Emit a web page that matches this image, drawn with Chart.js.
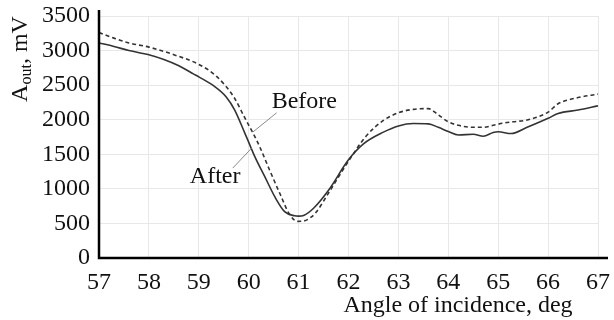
<!DOCTYPE html>
<html>
<head>
<meta charset="utf-8">
<script src="https://cdn.jsdelivr.net/npm/chart.js@4/dist/chart.umd.min.js"></script>
<style>
  html, body { margin: 0; padding: 0; background: #fff; }
  #wrap { width: 614px; height: 320px; }
</style>
</head>
<body>
<div id="wrap"><canvas id="chart" width="614" height="320"></canvas></div>
<script>
// angle of incidence (deg) and output amplitude (mV)
const afterAngle = [57.0, 57.3, 57.6, 58.0, 58.3, 58.6, 58.9, 59.0, 59.3, 59.55, 59.72, 59.92, 60.02, 60.12, 60.32, 60.52, 60.72, 60.92, 61.0, 61.1, 61.3, 61.6, 62.0, 62.3, 62.7, 63.0, 63.3, 63.6, 63.8, 64.0, 64.2, 64.5, 64.7, 64.9, 65.0, 65.26, 65.58, 66.0, 66.2, 66.6, 67.0];
const afterAout  = [3110, 3060, 3000, 2940, 2870, 2780, 2660, 2620, 2490, 2330, 2140, 1810, 1640, 1470, 1180, 890, 670, 610, 605, 615, 720, 980, 1420, 1650, 1820, 1910, 1945, 1940, 1890, 1830, 1780, 1790, 1760, 1815, 1825, 1800, 1890, 2020, 2090, 2140, 2200];

const beforeAngle = [57.0, 57.3, 57.6, 58.0, 58.5, 59.0, 59.35, 59.7, 59.92, 60.12, 60.22, 60.42, 60.62, 60.82, 60.98, 61.1, 61.25, 61.35, 61.6, 62.0, 62.35, 62.7, 63.0, 63.3, 63.6, 63.8, 64.0, 64.2, 64.5, 64.7, 64.9, 65.1, 65.3, 65.6, 66.0, 66.2, 66.6, 67.0];
const beforeAout  = [3260, 3180, 3110, 3050, 2940, 2800, 2630, 2330, 2030, 1760, 1610, 1270, 940, 630, 530, 535, 590, 660, 940, 1400, 1760, 1990, 2100, 2150, 2160, 2070, 1970, 1920, 1890, 1890, 1920, 1950, 1970, 2000, 2110, 2230, 2320, 2370];

const xTicks = [57, 58, 59, 60, 61, 62, 63, 64, 65, 66, 67];
const yTicks = [0, 500, 1000, 1500, 2000, 2500, 3000, 3500];

const FONT = '"Liberation Serif", "Times New Roman", serif';
const INK = '#333333';

const toPoints = (xs, ys) => xs.map((x, i) => ({ x: x, y: ys[i] }));

// labels with leader lines, in data units
const callouts = [
  { text: 'Before', tx: 60.46, ty: 2169, from: [60.08, 1820], to: [60.56, 2100] },
  { text: 'After',  tx: 58.82, ty: 1085, from: [59.68, 1300], to: [60.06, 1590] }
];

const decorations = {
  id: 'decorations',
  afterDraw(chart) {
    const { ctx, chartArea, scales } = chart;
    const x = scales.x, y = scales.y;
    ctx.save();

    // axis lines
    ctx.strokeStyle = '#000';
    ctx.lineWidth = 2.5;
    ctx.beginPath();
    ctx.moveTo(chartArea.left, chartArea.top - 6);
    ctx.lineTo(chartArea.left, chartArea.bottom);
    ctx.lineTo(chartArea.right + 10, chartArea.bottom);
    ctx.stroke();

    // callouts
    ctx.font = '24px ' + FONT;
    ctx.fillStyle = '#111';
    ctx.textBaseline = 'alphabetic';
    callouts.forEach(c => {
      ctx.strokeStyle = '#8a8a8a';
      ctx.lineWidth = 1;
      ctx.beginPath();
      ctx.moveTo(x.getPixelForValue(c.from[0]), y.getPixelForValue(c.from[1]));
      ctx.lineTo(x.getPixelForValue(c.to[0]), y.getPixelForValue(c.to[1]));
      ctx.stroke();
      ctx.fillText(c.text, x.getPixelForValue(c.tx), y.getPixelForValue(c.ty));
    });

    // x axis title
    ctx.textAlign = 'center';
    ctx.fillText('Angle of incidence, deg', 458, 312);

    // y axis title with subscript
    ctx.translate(27, 59);
    ctx.rotate(-Math.PI / 2);
    const big = '24px ' + FONT, small = '16px ' + FONT;
    ctx.font = big; const wA = ctx.measureText('A').width;
    ctx.font = small; const wSub = ctx.measureText('out').width;
    ctx.font = big; const wRest = ctx.measureText(', mV').width;
    let px = -(wA + wSub + wRest) / 2;
    ctx.textAlign = 'left';
    ctx.font = big; ctx.fillText('A', px, 0); px += wA;
    ctx.font = small; ctx.fillText('out', px, 4); px += wSub;
    ctx.font = big; ctx.fillText(', mV', px, 0);

    ctx.restore();
  }
};

new Chart(document.getElementById('chart'), {
  type: 'line',
  data: {
    datasets: [
      {
        label: 'After',
        data: toPoints(afterAngle, afterAout),
        borderColor: INK,
        borderWidth: 1.6,
        pointRadius: 0,
        cubicInterpolationMode: 'monotone',
        fill: false
      },
      {
        label: 'Before',
        data: toPoints(beforeAngle, beforeAout),
        borderColor: INK,
        borderWidth: 1.6,
        borderDash: [4, 3],
        pointRadius: 0,
        cubicInterpolationMode: 'monotone',
        fill: false
      }
    ]
  },
  options: {
    responsive: false,
    animation: false,
    layout: { padding: { left: 0, right: 16, top: 16, bottom: 0 } },
    plugins: {
      legend: { display: false },
      tooltip: { enabled: false }
    },
    scales: {
      x: {
        type: 'linear',
        min: 57,
        max: 67,
        afterBuildTicks: (s) => { s.ticks = xTicks.map(v => ({ value: v })); },
        afterFit: (s) => { s.height = 62; s.paddingLeft = 0; s.paddingRight = 0; },
        grid: { color: '#e8e8e8', lineWidth: 1, drawTicks: false },
        border: { display: false },
        ticks: { color: '#111', padding: 10, maxRotation: 0, font: { family: FONT, size: 24 } }
      },
      y: {
        min: 0,
        max: 3500,
        afterBuildTicks: (s) => { s.ticks = yTicks.map(v => ({ value: v })); },
        afterFit: (s) => { s.width = 99; s.paddingTop = 0; s.paddingBottom = 0; },
        grid: { color: '#e8e8e8', lineWidth: 1, drawTicks: false },
        border: { display: false },
        ticks: { color: '#111', padding: 9, font: { family: FONT, size: 24 }, callback: (v) => String(v) }
      }
    }
  },
  plugins: [decorations]
});
</script>
</body>
</html>
